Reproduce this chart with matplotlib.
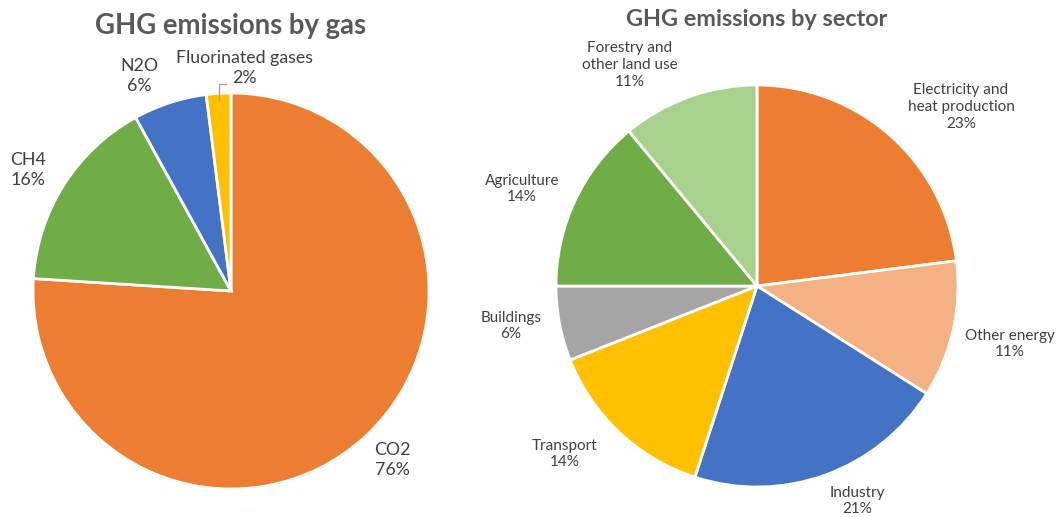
import matplotlib.pyplot as plt

# -- data -- #
gas_names = ["CO2", "CH4", "N2O", "Fluorinated gases"]
gas_share = [76, 16, 6, 2]
gas_colors = ["#ED7D31", "#70AD47", "#4472C4", "#FFC000"]

sector_names = ["Electricity and\nheat production", "Other energy", "Industry",
                "Transport", "Buildings", "Agriculture",
                "Forestry and\nother land use"]
sector_share = [23, 11, 21, 14, 6, 14, 11]
sector_colors = ["#ED7D31", "#F4B183", "#4472C4", "#FFC000", "#A5A5A5",
                 "#70AD47", "#A9D18E"]

W, H = 1058, 517
plt.rcParams['font.family'] = ['Lato', 'DejaVu Sans']
fig = plt.figure(figsize=(W / 100, H / 100), dpi=100)
ax = fig.add_axes([0, 0, 1, 1])

def py(y):
    # pixel row -> data y (y up)
    return H - y

wedge = dict(edgecolor='white', linewidth=2)
ax.pie(gas_share, colors=gas_colors, startangle=90, counterclock=False,
       center=(231, py(291)), radius=198, wedgeprops=wedge, frame=True)
ax.pie(sector_share, colors=sector_colors, startangle=90, counterclock=False,
       center=(757, py(286)), radius=201, wedgeprops=wedge, frame=True)

ax.set_xlim(0, W)
ax.set_ylim(0, H)
ax.set_aspect('equal')
ax.axis('off')

title_c = '#595959'
lab_c = '#404040'
ax.text(231, py(26), "GHG emissions by gas", ha='center', va='center',
        fontsize=19.8, fontweight='bold', color=title_c)
ax.text(757, py(20), "GHG emissions by sector", ha='center', va='center',
        fontsize=16.9, fontweight='bold', color=title_c)

# left labels
gas_pos = [(392, 460), (28, 170), (139, 76), (244, 68)]
for name, share, (x, y) in zip(gas_names, gas_share, gas_pos):
    ax.text(x, py(y), f"{name}\n{share}%", ha='center', va='center',
            fontsize=12.8, color=lab_c, linespacing=1.3)
# leader line for the small slice
ax.plot([219, 219, 226], [py(100), py(84), py(84)], color='#A6A6A6', lw=1)

# right labels
sector_pos = [(961, 107), (1010, 344), (857, 501), (565, 454),
              (511, 326), (522, 189), (630, 65)]
for name, share, (x, y) in zip(sector_names, sector_share, sector_pos):
    ax.text(x, py(y), f"{name}\n{share}%", ha='center', va='center',
            fontsize=11, color=lab_c, linespacing=1.27)

fig.savefig("out.png", dpi=100)
